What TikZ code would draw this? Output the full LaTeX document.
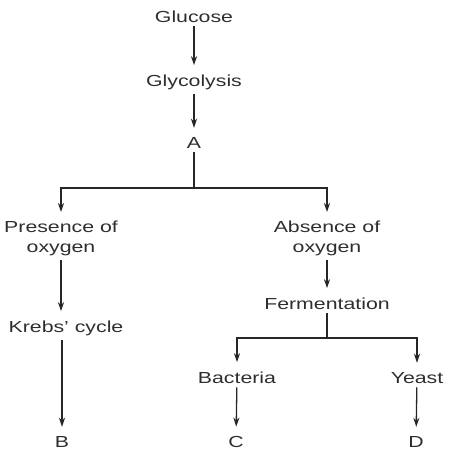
\documentclass[tikz,border=0pt]{standalone}
\usepackage{fontspec}
\setmainfont{Liberation Sans}[FakeStretch=1.33]
\usetikzlibrary{arrows.meta,positioning}

\begin{document}
\begin{tikzpicture}[x=1pt, y=-1pt, >={Stealth[length=9pt,width=6pt]}]
  % Define styles
  \tikzset{
    stage/.style={font=\fontsize{16}{20}\selectfont, text=black!82, align=center, inner xsep=1pt, inner ysep=4pt},
    flow/.style={draw=black!85, ->, line width=1.3pt, shorten >=5pt},
    bar/.style={draw=black!85, line width=1.3pt}
  }
  \useasboundingbox (0,0) rectangle (450,458);

  % Main chain
  \node[stage, anchor=base] (glucose) at (194,22) {Glucose};
  \node[stage, anchor=base] (glycolysis) at (194,86) {Glycolysis};
  \node[stage, anchor=base] (a) at (194,148) {A};
  \coordinate (split) at (194,188);

  % Two branches
  \node[stage, anchor=north] (presence) at (61,217) {Presence of\\oxygen};
  \node[stage, anchor=north] (absence) at (327,217) {Absence of\\oxygen};
  \node[stage, anchor=base] (krebs) at (66,332) {Krebs' cycle};
  \node[stage, anchor=base] (b) at (62,447) {B};
  \node[stage, anchor=base] (ferm) at (327,309) {Fermentation};
  \coordinate (split2) at (327,338);
  \node[stage, anchor=base] (bacteria) at (237,383) {Bacteria};
  \node[stage, anchor=base] (yeast) at (417,383) {Yeast};
  \node[stage, anchor=base] (c) at (236,447) {C};
  \node[stage, anchor=base] (d) at (416,447) {D};

  % Arrows
  \draw[flow] (glucose) -- (glycolysis);
  \draw[flow] (glycolysis) -- (a);
  \draw[bar] (a) -- (split);
  \draw[flow] (split) -| (presence.north);
  \draw[flow] (split) -| (absence.north);
  % aerobic side
  \draw[flow] (presence.south) -- (presence.south |- krebs.north);
  \draw[flow] (b |- krebs.south) -- (b);
  % anaerobic side
  \draw[flow] (absence) -- (ferm);
  \draw[bar] (ferm.south -| split2) -- (split2);
  \draw[flow] (split2) -| (bacteria.north);
  \draw[flow] (split2) -| (yeast.north);
  \draw[flow] (bacteria) -- (c);
  \draw[flow] (yeast) -- (d);
\end{tikzpicture}
\end{document}
